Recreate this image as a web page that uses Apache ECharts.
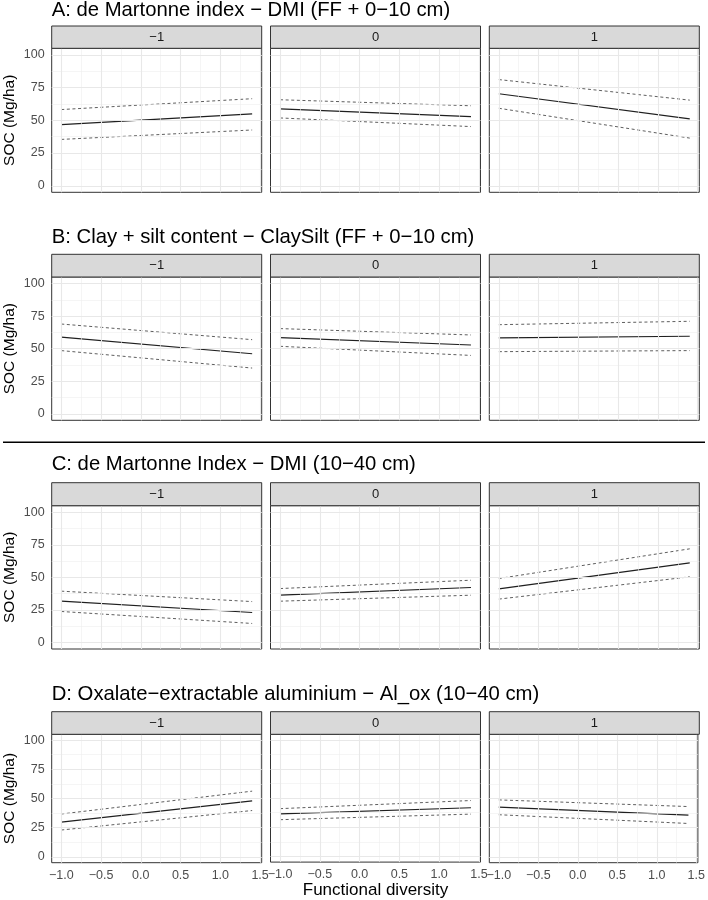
<!DOCTYPE html>
<html>
<head>
<meta charset="utf-8">
<script src="https://cdn.jsdelivr.net/npm/echarts@6/dist/echarts.min.js"></script>
<style>
  html, body { margin: 0; padding: 0; background: #ffffff; }
  #chart { width: 708px; height: 900px; }
</style>
</head>
<body>
<div id="chart"></div>
<script>
// ---------------- DATA ----------------
const rowTitles = [
  'A: de Martonne index \u2212 DMI (FF + 0\u221210 cm)',
  'B: Clay + silt content \u2212 ClaySilt (FF + 0\u221210 cm)',
  'C: de Martonne Index \u2212 DMI (10\u221240 cm)',
  'D: Oxalate\u2212extractable aluminium \u2212 Al_ox (10\u221240 cm)'
];
const facetLabels = ['\u22121', '0', '1'];
const xPoints = [-1.0, 1.4];               // functional diversity at line ends
const xTicks = [-1.0, -0.5, 0.0, 0.5, 1.0, 1.5];
const xMinorTicks = [-0.75, -0.25, 0.25, 0.75, 1.25];
const yTicks = [0, 25, 50, 75, 100];
const yMinorTicks = [12.5, 37.5, 62.5, 87.5];
const yAxisTitle = 'SOC (Mg/ha)';
const xAxisTitle = 'Functional diversity';

// fitted SOC at x = -1 and x = 1.4, per facet (-1, 0, 1)
const fitA   = [[46.7, 54.9], [58.8, 52.8], [70.3, 51.1]];
const upperA = [[58.2, 66.5], [65.7, 61.1], [81.1, 65.4]];
const lowerA = [[35.4, 42.6], [51.8, 45.2], [59.2, 36.4]];

const fitB   = [[58.9, 46.1], [58.4, 52.8], [58.2, 59.5]];
const upperB = [[68.9, 56.9], [65.4, 60.5], [68.4, 71.0]];
const lowerB = [[48.5, 35.1], [51.8, 44.8], [47.7, 48.5]];

const fitC   = [[31.7, 23.0], [36.3, 42.2], [41.2, 61.1]];
const upperC = [[39.4, 31.4], [41.4, 47.8], [49.1, 71.9]];
const lowerC = [[23.8, 14.6], [31.7, 36.3], [33.3, 50.4]];

const fitD   = [[29.8, 48.0], [36.5, 41.8], [42.6, 35.8]];
const upperD = [[36.7, 56.3], [41.0, 48.0], [48.8, 43.1]];
const lowerD = [[23.0, 39.7], [31.5, 36.3], [36.1, 28.6]];

const fits   = [fitA, fitB, fitC, fitD];
const uppers = [upperA, upperB, upperC, upperD];
const lowers = [lowerA, lowerB, lowerC, lowerD];

// ---------------- LAYOUT ----------------
const FONT = '"Liberation Sans", Arial, Helvetica, sans-serif';
const colLeft = [51.7, 270.5, 489.3];
const colWidth = 210;
const rows = [
  { titleC: 10.0,  stripTop: 26.0,  plotTop: 48.3,  plotBottom: 192.3 },
  { titleC: 236.7, stripTop: 254.3, plotTop: 277.0, plotBottom: 420.3 },
  { titleC: 463.5, stripTop: 482.7, plotTop: 505.7, plotBottom: 649.0 },
  { titleC: 693.3, stripTop: 711.7, plotTop: 734.3, plotBottom: 862.7 }
];
const X_MIN = -1.12, X_MAX = 1.52, Y_MIN = -5, Y_MAX = 105;
const TITLE_SIZE = 20.3;

const fmtX = v => v.toFixed(1).replace('-', '\u2212');

const grids = [], xAxes = [], yAxes = [], series = [], titles = [], graphics = [];

rows.forEach((row, r) => {
  titles.push({
    text: rowTitles[r],
    left: colLeft[0],
    top: row.titleC - TITLE_SIZE * 0.45,
    padding: 0,
    textStyle: { fontFamily: FONT, fontSize: TITLE_SIZE, fontWeight: 'normal', color: '#000000' }
  });
  for (let c = 0; c < 3; c++) {
    const gi = r * 3 + c;
    const isBottom = r === 3;
    const isLeft = c === 0;
    grids.push({
      left: colLeft[c], top: row.plotTop, width: colWidth, height: row.plotBottom - row.plotTop,
      show: true, backgroundColor: '#ffffff', borderColor: '#333333', borderWidth: 1,
      containLabel: false
    });
    xAxes.push({
      type: 'value', gridIndex: gi, min: X_MIN, max: X_MAX,
      axisLine: { show: false },
      splitLine: { show: false },
      axisTick: { show: isBottom, customValues: xTicks, length: 4, lineStyle: { color: '#333333', width: 1 } },
      axisLabel: {
        show: isBottom, customValues: xTicks, margin: 6,
        formatter: v => fmtX(v),
        fontFamily: FONT, fontSize: 12.5, color: '#4D4D4D'
      },
      name: (isBottom && c === 1) ? xAxisTitle : '',
      nameLocation: 'middle', nameGap: 19,
      nameTextStyle: { fontFamily: FONT, fontSize: 17, color: '#000000' }
    });
    yAxes.push({
      type: 'value', gridIndex: gi, min: Y_MIN, max: Y_MAX,
      axisLine: { show: false },
      splitLine: { show: false },
      axisTick: { show: isLeft, customValues: yTicks, length: 4, lineStyle: { color: '#333333', width: 1 } },
      axisLabel: {
        show: isLeft, customValues: yTicks, margin: 7,
        fontFamily: FONT, fontSize: 12.5, color: '#4D4D4D'
      },
      name: isLeft ? yAxisTitle : '',
      nameLocation: 'middle', nameGap: 34,
      nameTextStyle: { fontFamily: FONT, fontSize: 15.5, color: '#000000' }
    });

    // gridlines (drawn through the axes' scales)
    const minorLines = yMinorTicks.map(v => ({ yAxis: v })).concat(xMinorTicks.map(v => ({ xAxis: v })));
    const majorLines = yTicks.map(v => ({ yAxis: v })).concat(xTicks.map(v => ({ xAxis: v })));
    series.push({
      type: 'line', xAxisIndex: gi, yAxisIndex: gi, data: [], z: 1, silent: true,
      markLine: {
        silent: true, symbol: ['none', 'none'], label: { show: false }, animation: false,
        lineStyle: { color: '#EFEFEF', width: 0.6, type: 'solid' },
        emphasis: { disabled: true },
        data: minorLines
      }
    });
    series.push({
      type: 'line', xAxisIndex: gi, yAxisIndex: gi, data: [], z: 1, silent: true,
      markLine: {
        silent: true, symbol: ['none', 'none'], label: { show: false }, animation: false,
        lineStyle: { color: '#E8E8E8', width: 1.1, type: 'solid' },
        emphasis: { disabled: true },
        data: majorLines
      }
    });

    const mk = (vals) => xPoints.map((x, i) => [x, vals[i]]);
    series.push({
      type: 'line', xAxisIndex: gi, yAxisIndex: gi, z: 3, silent: true,
      showSymbol: false, symbol: 'none',
      lineStyle: { color: '#555555', width: 0.95, type: [3, 2.6] },
      data: mk(uppers[r][c])
    });
    series.push({
      type: 'line', xAxisIndex: gi, yAxisIndex: gi, z: 3, silent: true,
      showSymbol: false, symbol: 'none',
      lineStyle: { color: '#555555', width: 0.95, type: [3, 2.6] },
      data: mk(lowers[r][c])
    });
    series.push({
      type: 'line', xAxisIndex: gi, yAxisIndex: gi, z: 4, silent: true,
      showSymbol: false, symbol: 'none',
      lineStyle: { color: '#1F1F1F', width: 1.2, type: 'solid' },
      data: mk(fits[r][c])
    });

    // facet strip
    graphics.push({
      type: 'rect', silent: true, z: 10,
      shape: { x: colLeft[c], y: row.stripTop, width: colWidth, height: row.plotTop - row.stripTop },
      style: { fill: '#D9D9D9', stroke: '#333333', lineWidth: 1 }
    });
    graphics.push({
      type: 'text', silent: true, z: 11,
      x: colLeft[c] + colWidth / 2, y: (row.stripTop + row.plotTop) / 2,
      style: {
        text: facetLabels[c], fill: '#1A1A1A', font: '13px ' + FONT,
        textAlign: 'center', textVerticalAlign: 'middle'
      }
    });
  }
});

// separator between the FF+0-10 cm and 10-40 cm blocks
graphics.push({
  type: 'line', silent: true, z: 10,
  shape: { x1: 3, y1: 442.3, x2: 705, y2: 442.3 },
  style: { stroke: '#000000', lineWidth: 1.4 }
});

const chart = echarts.init(document.getElementById('chart'), null, { renderer: 'canvas' });
chart.setOption({
  animation: false,
  backgroundColor: '#ffffff',
  title: titles,
  grid: grids,
  xAxis: xAxes,
  yAxis: yAxes,
  series: series,
  graphic: { elements: graphics }
});
</script>
</body>
</html>
